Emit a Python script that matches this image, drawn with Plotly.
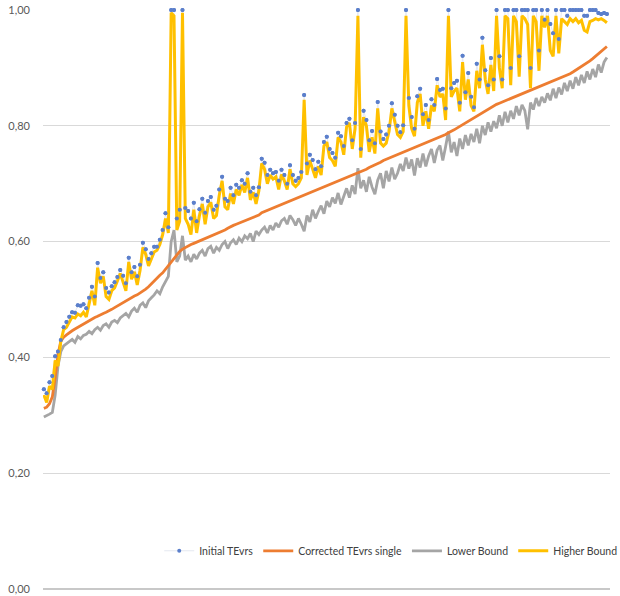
import plotly.graph_objects as go

# Per-observation efficiency scores (sorted by corrected score)
initial_tevrs = [
    0.345, 0.338, 0.357, 0.368, 0.402, 0.410, 0.430, 0.452, 0.461, 0.470,
    0.478, 0.477, 0.490, 0.489, 0.492, 0.485, 0.503, 0.522, 0.505, 0.563,
    0.537, 0.547, 0.520, 0.512, 0.523, 0.530, 0.539, 0.551, 0.541, 0.528,
    0.572, 0.547, 0.556, 0.540, 0.560, 0.598, 0.587, 0.570, 0.580, 0.591,
    0.591, 0.603, 0.620, 0.649, 0.625, 1.000, 1.000, 0.640, 0.655, 1.000,
    0.658, 0.653, 0.640, 0.667, 0.635, 0.656, 0.674, 0.650, 0.670, 0.677,
    0.655, 0.662, 0.690, 0.712, 0.674, 0.670, 0.693, 0.680, 0.698, 0.693,
    0.706, 0.700, 0.718, 0.686, 0.693, 0.680, 0.694, 0.743, 0.736, 0.715,
    0.724, 0.718, 0.720, 0.705, 0.724, 0.715, 0.700, 0.732, 0.715, 0.705,
    0.710, 0.720, 0.853, 0.735, 0.750, 0.741, 0.725, 0.738, 0.730, 0.772,
    0.781, 0.760, 0.753, 0.745, 0.788, 0.782, 0.765, 0.805, 0.812, 0.775,
    0.805, 1.000, 0.760, 0.826, 0.810, 0.775, 0.791, 0.770, 0.841, 0.790,
    0.777, 0.785, 0.800, 0.839, 0.819, 0.800, 0.789, 0.801, 1.000, 0.848,
    0.815, 0.795, 0.851, 0.864, 0.820, 0.836, 0.810, 0.846, 0.836, 0.881,
    0.862, 0.864, 0.830, 1.000, 0.865, 0.874, 0.878, 0.840, 0.921, 0.858,
    0.891, 0.850, 0.832, 0.907, 0.880, 0.952, 0.896, 0.870, 0.917, 0.880,
    1.000, 0.920, 0.880, 1.000, 1.000, 0.900, 1.000, 1.000, 0.920, 1.000,
    1.000, 1.000, 0.900, 1.000, 1.000, 0.930, 1.000, 0.983, 1.000, 0.976,
    0.960, 1.000, 0.950, 1.000, 1.000, 0.990, 1.000, 1.000, 1.000, 1.000,
    1.000, 0.990, 0.990, 1.000, 1.000, 1.000, 0.995, 0.993, 0.995, 0.993,
]

higher_bound = [
    0.335, 0.322, 0.350, 0.345, 0.395, 0.385, 0.428, 0.448, 0.452, 0.462,
    0.470, 0.468, 0.475, 0.472, 0.478, 0.470, 0.495, 0.515, 0.490, 0.555,
    0.528, 0.540, 0.505, 0.500, 0.515, 0.520, 0.532, 0.545, 0.530, 0.515,
    0.565, 0.535, 0.548, 0.525, 0.550, 0.590, 0.578, 0.558, 0.570, 0.582,
    0.585, 0.595, 0.612, 0.640, 0.615, 0.995, 0.990, 0.620, 0.635, 0.995,
    0.640, 0.630, 0.612, 0.655, 0.615, 0.645, 0.665, 0.630, 0.660, 0.668,
    0.640, 0.645, 0.680, 0.705, 0.660, 0.655, 0.683, 0.665, 0.690, 0.680,
    0.698, 0.685, 0.710, 0.672, 0.685, 0.665, 0.688, 0.735, 0.725, 0.700,
    0.715, 0.708, 0.712, 0.690, 0.716, 0.705, 0.690, 0.725, 0.700, 0.695,
    0.700, 0.710, 0.845, 0.715, 0.740, 0.725, 0.710, 0.730, 0.715, 0.765,
    0.772, 0.745, 0.740, 0.730, 0.780, 0.772, 0.750, 0.798, 0.805, 0.760,
    0.795, 0.990, 0.745, 0.815, 0.800, 0.755, 0.780, 0.752, 0.830, 0.770,
    0.765, 0.770, 0.790, 0.830, 0.808, 0.785, 0.780, 0.790, 0.990, 0.835,
    0.795, 0.782, 0.840, 0.855, 0.800, 0.825, 0.795, 0.835, 0.825, 0.870,
    0.850, 0.855, 0.810, 0.990, 0.850, 0.860, 0.865, 0.825, 0.910, 0.845,
    0.880, 0.835, 0.825, 0.895, 0.865, 0.940, 0.880, 0.855, 0.905, 0.860,
    0.990, 0.900, 0.865, 0.990, 0.985, 0.870, 0.990, 0.980, 0.885, 0.990,
    0.985, 0.975, 0.865, 0.990, 0.980, 0.895, 0.990, 0.970, 0.990, 0.930,
    0.920, 0.990, 0.925, 0.985, 0.980, 0.975, 0.985, 0.980, 0.985, 0.978,
    0.982, 0.965, 0.962, 0.980, 0.982, 0.985, 0.983, 0.985, 0.982, 0.978,
]

corrected_single = [
    0.312, 0.314, 0.320, 0.332, 0.365, 0.405, 0.428, 0.435, 0.439, 0.443,
    0.446, 0.449, 0.452, 0.455, 0.458, 0.461, 0.463, 0.466, 0.469, 0.471,
    0.474, 0.476, 0.478, 0.480, 0.483, 0.486, 0.489, 0.492, 0.495, 0.497,
    0.500, 0.503, 0.506, 0.508, 0.511, 0.514, 0.518, 0.522, 0.527, 0.533,
    0.538, 0.542, 0.546, 0.552, 0.558, 0.565, 0.572, 0.578, 0.583, 0.587,
    0.590, 0.592, 0.595, 0.597, 0.599, 0.601, 0.603, 0.605, 0.607, 0.609,
    0.611, 0.613, 0.615, 0.617, 0.620, 0.623, 0.626, 0.628, 0.630, 0.632,
    0.634, 0.636, 0.638, 0.640, 0.642, 0.644, 0.646, 0.650, 0.652, 0.654,
    0.656, 0.658, 0.660, 0.662, 0.664, 0.666, 0.668, 0.670, 0.672, 0.674,
    0.676, 0.678, 0.680, 0.682, 0.684, 0.686, 0.688, 0.690, 0.692, 0.694,
    0.696, 0.698, 0.700, 0.702, 0.704, 0.706, 0.708, 0.710, 0.712, 0.714,
    0.716, 0.719, 0.721, 0.723, 0.725, 0.728, 0.730, 0.732, 0.735, 0.737,
    0.740, 0.742, 0.744, 0.746, 0.748, 0.750, 0.752, 0.754, 0.756, 0.758,
    0.760, 0.762, 0.764, 0.766, 0.768, 0.770, 0.772, 0.774, 0.777, 0.779,
    0.781, 0.783, 0.785, 0.788, 0.790, 0.793, 0.796, 0.799, 0.802, 0.805,
    0.808, 0.811, 0.814, 0.817, 0.820, 0.823, 0.826, 0.829, 0.832, 0.835,
    0.837, 0.839, 0.841, 0.843, 0.845, 0.847, 0.849, 0.851, 0.853, 0.855,
    0.857, 0.859, 0.861, 0.863, 0.865, 0.867, 0.869, 0.871, 0.873, 0.875,
    0.877, 0.879, 0.881, 0.884, 0.886, 0.888, 0.890, 0.893, 0.896, 0.899,
    0.902, 0.905, 0.908, 0.912, 0.916, 0.920, 0.924, 0.928, 0.932, 0.937,
]

lower_bound = [
    0.297, 0.299, 0.302, 0.305, 0.335, 0.385, 0.410, 0.420, 0.424, 0.428,
    0.431, 0.426, 0.436, 0.432, 0.438, 0.440, 0.445, 0.441, 0.448, 0.452,
    0.447, 0.455, 0.458, 0.452, 0.461, 0.464, 0.460, 0.468, 0.472, 0.476,
    0.470, 0.480, 0.485, 0.478, 0.490, 0.494, 0.486, 0.498, 0.503, 0.508,
    0.515, 0.510, 0.522, 0.530, 0.540, 0.600, 0.620, 0.565, 0.575, 0.610,
    0.568, 0.575, 0.565, 0.578, 0.570, 0.580, 0.585, 0.575, 0.588, 0.592,
    0.580, 0.590, 0.585, 0.595, 0.600, 0.588, 0.598, 0.603, 0.595, 0.606,
    0.600, 0.610, 0.605, 0.614, 0.600, 0.618, 0.612, 0.620, 0.625, 0.615,
    0.628, 0.620, 0.632, 0.625, 0.636, 0.640, 0.630, 0.645, 0.638, 0.628,
    0.640, 0.630, 0.618, 0.645, 0.634, 0.655, 0.640, 0.652, 0.662, 0.648,
    0.670, 0.660, 0.676, 0.666, 0.684, 0.664, 0.678, 0.692, 0.676, 0.697,
    0.682, 0.727, 0.692, 0.706, 0.686, 0.712, 0.694, 0.682, 0.706, 0.718,
    0.692, 0.722, 0.704, 0.728, 0.708, 0.718, 0.734, 0.722, 0.745, 0.726,
    0.742, 0.714, 0.744, 0.728, 0.752, 0.730, 0.748, 0.760, 0.736, 0.758,
    0.766, 0.740, 0.764, 0.790, 0.754, 0.772, 0.748, 0.778, 0.760, 0.784,
    0.766, 0.786, 0.772, 0.795, 0.770, 0.800, 0.784, 0.806, 0.790, 0.808,
    0.796, 0.818, 0.800, 0.824, 0.806, 0.826, 0.812, 0.834, 0.818, 0.836,
    0.826, 0.794, 0.840, 0.828, 0.848, 0.834, 0.850, 0.840, 0.856, 0.844,
    0.864, 0.848, 0.866, 0.854, 0.874, 0.860, 0.878, 0.864, 0.884, 0.870,
    0.888, 0.874, 0.894, 0.880, 0.898, 0.884, 0.906, 0.892, 0.910, 0.918,
]

obs = list(range(1, len(corrected_single) + 1))
y_ticks = [0.0, 0.2, 0.4, 0.6, 0.8, 1.0]

BLUE = "#5B7FCB"
ORANGE = "#ED7D31"
GREY = "#A5A5A5"
YELLOW = "#FFC000"
TEXT = "#595959"

fig = go.Figure()

# Initial scores: pale connecting line (legend entry) under the bands
fig.add_trace(go.Scatter(
    x=obs, y=initial_tevrs, name="Initial TEvrs", mode="lines+markers",
    line=dict(color="#E4E8F0", width=1),
    marker=dict(color=BLUE, size=4),
    legendrank=1, cliponaxis=False,
))
fig.add_trace(go.Scatter(
    x=obs, y=lower_bound, name="Lower Bound", mode="lines",
    line=dict(color=GREY, width=2.8), legendrank=3,
))
fig.add_trace(go.Scatter(
    x=obs, y=corrected_single, name="Corrected TEvrs single", mode="lines",
    line=dict(color=ORANGE, width=2.8), legendrank=2,
))
fig.add_trace(go.Scatter(
    x=obs, y=higher_bound, name="Higher Bound", mode="lines",
    line=dict(color=YELLOW, width=3), legendrank=4, cliponaxis=False,
))
# Initial score markers drawn on top of the bands
fig.add_trace(go.Scatter(
    x=obs, y=initial_tevrs, mode="markers", showlegend=False,
    marker=dict(color=BLUE, size=4), cliponaxis=False, hoverinfo="skip",
))

fig.update_layout(
    width=620, height=596,
    margin=dict(l=43, r=10, t=10, b=7, autoexpand=False),
    paper_bgcolor="white", plot_bgcolor="white",
    separators=", ",
    font=dict(family="Lato", size=11, color=TEXT),
    showlegend=True,
    legend=dict(
        orientation="h", x=0.205, xanchor="left", y=0.066, yanchor="middle",
        bgcolor="rgba(0,0,0,0)", font=dict(size=10.5, color="#404040"),
        itemwidth=30, tracegroupgap=0,
    ),
    xaxis=dict(
        range=[0.7, 201.1], showgrid=False, showticklabels=False,
        zeroline=False, showline=False, ticks="",
    ),
    yaxis=dict(
        range=[0, 1.0], tickvals=y_ticks, tickformat=".2f",
        showgrid=True, gridcolor="#D9D9D9", gridwidth=1,
        zeroline=True, zerolinecolor="#C8C8C8", zerolinewidth=1.5,
        showline=False, ticks="", ticklabelstandoff=12,
        tickfont=dict(size=11, color=TEXT),
    ),
)

fig.write_html("out.html")
